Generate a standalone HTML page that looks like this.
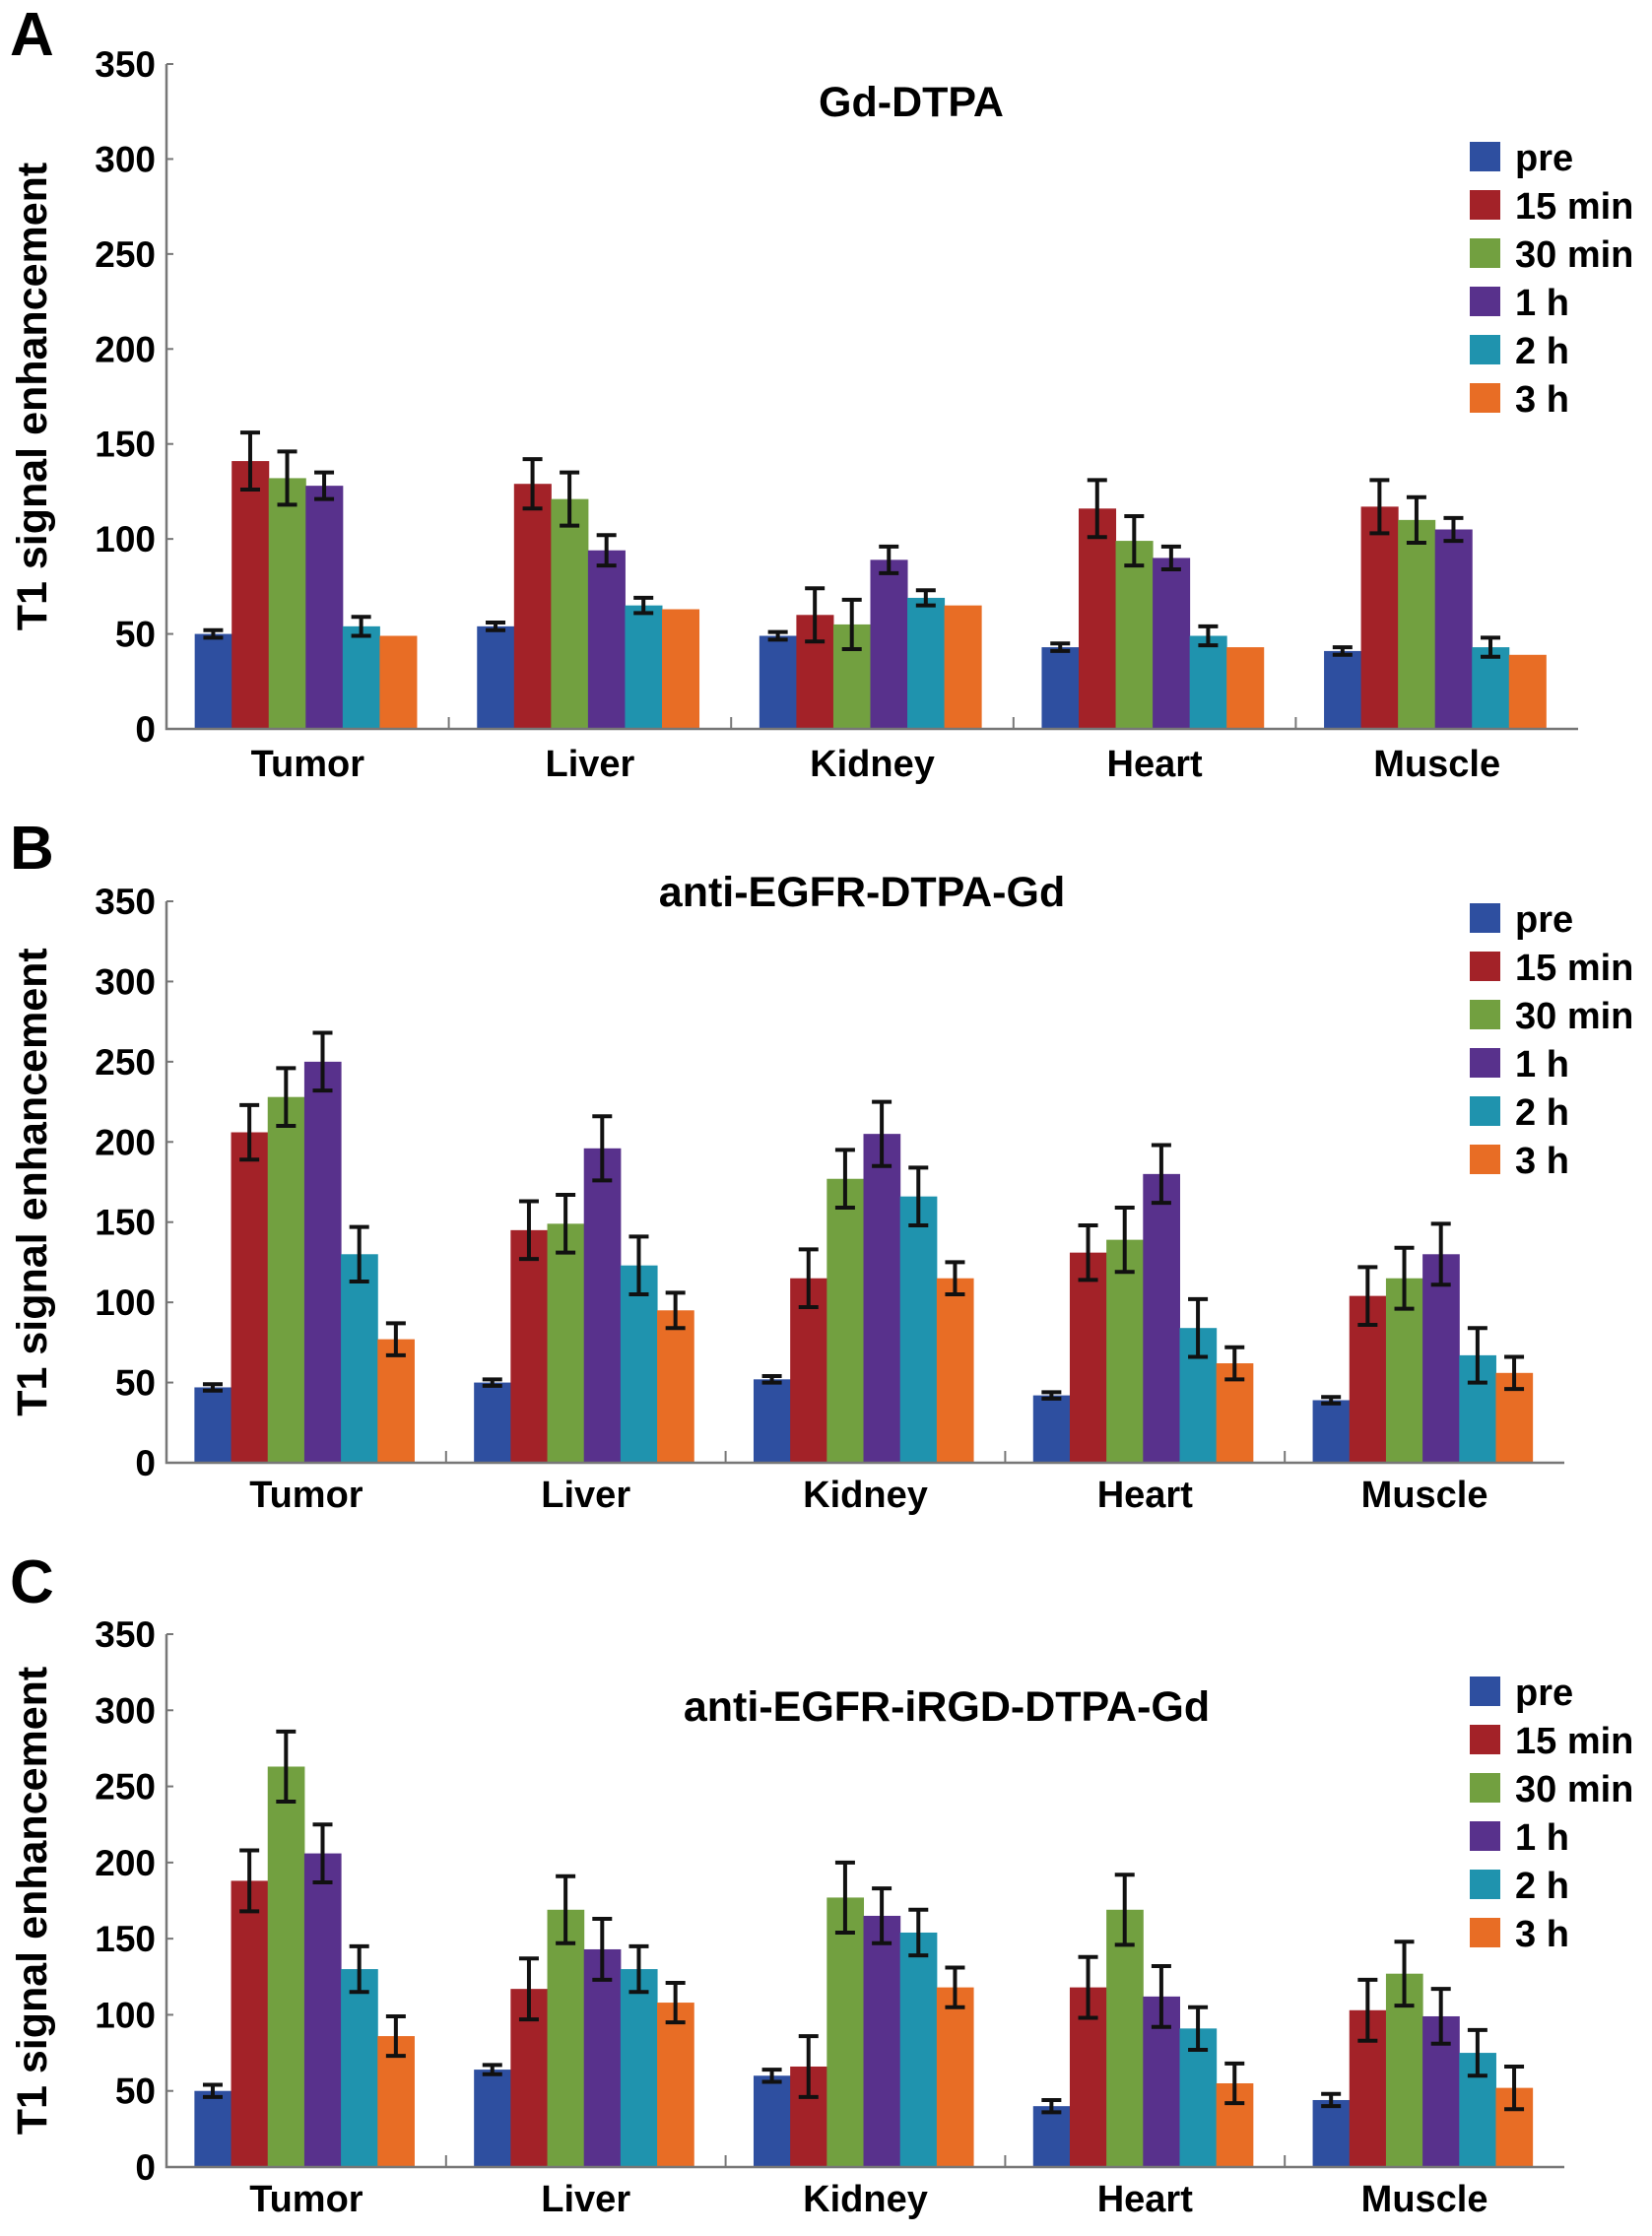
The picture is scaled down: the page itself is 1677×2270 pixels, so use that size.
<!DOCTYPE html>
<html><head><meta charset="utf-8"><style>
body{margin:0;background:#fff;}
svg{display:block;font-family:"Liberation Sans",Arial,sans-serif;font-weight:bold;}
</style></head><body>
<svg id="fig" width="1677" height="2270" viewBox="0 0 1677 2270" xmlns="http://www.w3.org/2000/svg"></svg>
<script>
const categories = ["Tumor","Liver","Kidney","Heart","Muscle"];
const seriesNames = ["pre","15 min","30 min","1 h","2 h","3 h"];
const seriesColors = ["#2E4FA0","#A32228","#72A040","#58318C","#1F93AE","#E86D25"];
const yTicks = [0,50,100,150,200,250,300,350];
const titles = ["Gd-DTPA","anti-EGFR-DTPA-Gd","anti-EGFR-iRGD-DTPA-Gd"];
const letters = ["A","B","C"];
// values [category][series]
const valuesA = [[50,141,132,128,54,49],[54,129,121,94,65,63],[49,60,55,89,69,65],[43,116,99,90,49,43],[41,117,110,105,43,39]];
const errorsA = [[2,15,14,7,5,0],[2,13,14,8,4,0],[2,14,13,7,4,0],[2,15,13,6,5,0],[2,14,12,6,5,0]];
const valuesB = [[47,206,228,250,130,77],[50,145,149,196,123,95],[52,115,177,205,166,115],[42,131,139,180,84,62],[39,104,115,130,67,56]];
const errorsB = [[2,17,18,18,17,10],[2,18,18,20,18,11],[2,18,18,20,18,10],[2,17,20,18,18,10],[2,18,19,19,17,10]];
const valuesC = [[50,188,263,206,130,86],[64,117,169,143,130,108],[60,66,177,165,154,118],[40,118,169,112,91,55],[44,103,127,99,75,52]];
const errorsC = [[4,20,23,19,15,13],[3,20,22,20,15,13],[4,20,23,18,15,13],[4,20,23,20,14,13],[4,20,21,18,15,14]];

const panels = [
 {vals:valuesA, errs:errorsA, y0:740, y350:65, x0:169, x1:1602, title:[925,104], leg:159, lab:788, let:[10,56]},
 {vals:valuesB, errs:errorsB, y0:1485, y350:915, x0:169, x1:1588, title:[875,906], leg:932, lab:1530, let:[10,882]},
 {vals:valuesC, errs:errorsC, y0:2200, y350:1659, x0:169, x1:1588, title:[961,1733], leg:1717, lab:2245, let:[10,1627]}
];
const NS="http://www.w3.org/2000/svg";
const svg=document.getElementById('fig');
function mk(tag,attrs,parent){const e=document.createElementNS(NS,tag);for(const k in attrs)e.setAttribute(k,attrs[k]);(parent||svg).appendChild(e);return e;}

panels.forEach((p,pi)=>{
 const g=mk('g',{});
 
 
 const yScale=v=>p.y0-(v/350)*(p.y0-p.y350);
 const gw=(p.x1-p.x0)/5;
 const bw=gw*0.131;
 const off=gw*0.10;
 const L=mk('text',{x:p.let[0],y:p.let[1],'font-size':62},g);L.textContent=letters[pi];
 
 
 const T=mk('text',{x:p.title[0],y:p.title[1]+14,'font-size':43,'text-anchor':'middle'},g);T.textContent=titles[pi];
 
 
 const yc=(p.y0+p.y350)/2;
 const YT=mk('text',{x:0,y:0,'font-size':43,'text-anchor':'middle',transform:`translate(47,${yc}) rotate(-90)`},g);YT.textContent="T1 signal enhancement";
 
 
 p.vals.forEach((row,ci)=>{
  row.forEach((v,si)=>{
   const x=p.x0+ci*gw+off+si*bw;
   const r=mk('rect',{x:x,y:yScale(v),width:bw+0.5,height:p.y0-yScale(v),fill:seriesColors[si]},g);
   
   
   const e=p.errs[ci][si];
   if(e>0){
    const cx=x+bw/2, yt=yScale(v+e), yb=yScale(v-e);
    const eb=mk('path',{d:`M${cx} ${yt}V${yb}M${cx-10} ${yt}H${cx+10}M${cx-10} ${yb}H${cx+10}`,stroke:'#111','stroke-width':4,fill:'none'},g);
    
    
   }
  });
  const cl=mk('text',{x:p.x0+ci*gw+gw/2,y:p.lab,'font-size':38,'text-anchor':'middle'},g);cl.textContent=categories[ci];
  
  
  if(ci>0){mk('line',{x1:p.x0+ci*gw,x2:p.x0+ci*gw,y1:p.y0,y2:p.y0-12,stroke:'#777','stroke-width':2},g);}
 });
 const ax=mk('path',{d:`M${p.x0} ${p.y350}V${p.y0}H${p.x1}`,stroke:'#777','stroke-width':2.5,fill:'none'},g);
 
 
 yTicks.forEach(t=>{
  const y=yScale(t);
  mk('line',{x1:p.x0,x2:p.x0+7,y1:y,y2:y,stroke:'#777','stroke-width':2},g);
  const tl=mk('text',{x:158,y:y+13,'font-size':37,'text-anchor':'end'},g);tl.textContent=t;
  
  
 });
 const lg=mk('g',{},g);
 
 
 seriesNames.forEach((n,si)=>{
  const cy=p.leg+si*49;
  mk('rect',{x:1492,y:cy-15,width:31,height:30,fill:seriesColors[si]},lg);
  const lt=mk('text',{x:1538,y:cy+14,'font-size':38},lg);lt.textContent=n;
  
  
 });
});
</script>
</body></html>
